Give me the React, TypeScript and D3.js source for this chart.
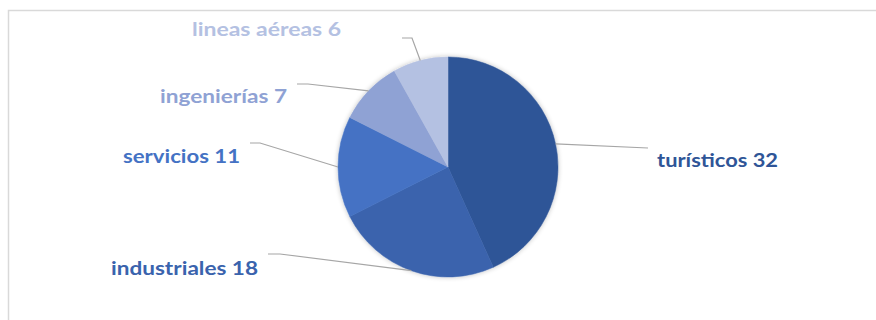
import React from "react";
import * as d3 from "d3";

const categories = ["turísticos", "industriales", "servicios", "ingenierías", "lineas aéreas"];
const values = [32, 18, 11, 7, 6];
const colors = ["#2F5597", "#3A63AD", "#4472C4", "#8FA2D4", "#B4C1E2"];

// label layout: text anchor (left x, baseline y), elbow point, measured width
const labelLayout = [
  { tx: 657, ty: 167, w: 121, ex: 648, ey: 148, hx: 648 },
  { tx: 111, ty: 275, w: 147, ex: 280, ey: 254, hx: 268 },
  { tx: 123, ty: 163, w: 117, ex: 260, ey: 143, hx: 250 },
  { tx: 160, ty: 103, w: 127, ex: 308, ey: 84, hx: 297 },
  { tx: 192, ty: 36, w: 149, ex: 412, ey: 38, hx: 402 },
];

const W = 876;
const H = 320;
const cx = 448;
const cy = 167;
const R = 110;

export default function App() {
  const pie = d3.pie<number>().sort(null).value((d) => d)(values);
  const arc = d3.arc<d3.PieArcDatum<number>>().innerRadius(0).outerRadius(R);

  return (
    <svg
      width={W}
      height={H}
      style={{ position: "absolute", left: 0, top: 0, background: "#fff" }}
    >
      <defs>
        <filter id="sh" x="-20%" y="-20%" width="140%" height="140%">
          <feGaussianBlur in="SourceAlpha" stdDeviation="2.5" />
          <feOffset dx="0" dy="0" result="b" />
          <feComponentTransfer>
            <feFuncA type="linear" slope="0.25" />
          </feComponentTransfer>
          <feMerge>
            <feMergeNode />
            <feMergeNode in="SourceGraphic" />
          </feMerge>
        </filter>
      </defs>
      <rect x={8.5} y={10.5} width={900} height={400} fill="none" stroke="#D9D9D9" strokeWidth={1.5} />
      <g transform={`translate(${cx},${cy})`} filter="url(#sh)">
        {pie.map((p, i) => (
          <path key={i} d={arc(p) || ""} fill={colors[i]} stroke={colors[i]} strokeWidth={0.5} />
        ))}
      </g>
      {pie.map((p, i) => {
        const mid = (p.startAngle + p.endAngle) / 2;
        const sx = cx + R * Math.sin(mid);
        const sy = cy - R * Math.cos(mid);
        const L = labelLayout[i];
        const pts = [
          [sx, sy],
          [L.ex, L.ey],
          [L.hx, L.ey],
        ];
        return (
          <path
            key={"l" + i}
            d={d3.line()(pts as [number, number][]) || ""}
            fill="none"
            stroke="#A6A6A6"
            strokeWidth={1.2}
          />
        );
      })}
      {categories.map((c, i) => {
        const L = labelLayout[i];
        return (
          <text
            key={"t" + i}
            x={L.tx}
            y={L.ty}
            fill={colors[i]}
            fontFamily="Lato, 'Open Sans', sans-serif"
            fontWeight="bold"
            fontSize={19.5}
            textLength={L.w}
            lengthAdjust="spacingAndGlyphs"
          >
            {`${c} ${values[i]}`}
          </text>
        );
      })}
    </svg>
  );
}
